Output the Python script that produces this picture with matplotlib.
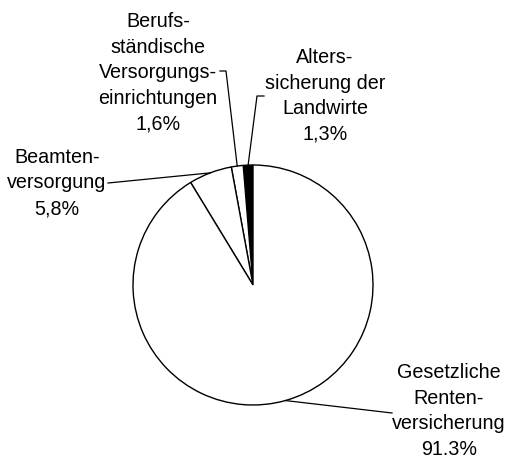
import matplotlib.pyplot as plt
import numpy as np

plt.rcParams['font.family'] = ['Liberation Sans', 'DejaVu Sans']

# Anteile der Alterssicherungssysteme (%), ab 12 Uhr gegen den Uhrzeigersinn
labels = ['Alters-\nsicherung der\nLandwirte\n1,3%',
          'Berufs-\nständische\nVersorgungs-\neinrichtungen\n1,6%',
          'Beamten-\nversorgung\n5,8%',
          'Gesetzliche\nRenten-\nversicherung\n91.3%']
werte = [1.3, 1.6, 5.8, 91.3]
farben = ['black', 'white', 'white', 'white']

# Textpositionen (Pixel, von oben) und Knickpunkte der Linien
text_xy = [(325, 96), (158, 73), (57, 183), (449, 411)]
knick = [[(257, 96), (264, 96)], [(226, 71), (220, 71)], [(108, 183)], [(392, 413)]]

W, H = 509, 459
fig = plt.figure(figsize=(W / 100, H / 100), dpi=100)
ax = fig.add_axes([0, 0, 1, 1])

cx, cy, r = 253, H - 285, 120
ax.pie(werte, colors=farben, startangle=90, counterclock=True,
       center=(cx, cy), radius=r, frame=True,
       wedgeprops=dict(edgecolor='black', linewidth=1.0))
ax.set_xlim(0, W)
ax.set_ylim(0, H)
ax.set_aspect('equal')
ax.axis('off')

kum = np.cumsum([0] + werte)
for i, lab in enumerate(labels):
    mitte = 90 + 3.6 * (kum[i] + kum[i + 1]) / 2
    x0 = cx + r * np.cos(np.radians(mitte))
    y0 = cy + r * np.sin(np.radians(mitte))
    xs = [x0] + [p[0] for p in knick[i]]
    ys = [y0] + [H - p[1] for p in knick[i]]
    ax.plot(xs, ys, color='black', linewidth=0.9)
    ax.text(text_xy[i][0], H - text_xy[i][1], lab, ha='center', va='center',
            fontsize=14.2, linespacing=1.44)

fig.savefig('out.png', dpi=100)
